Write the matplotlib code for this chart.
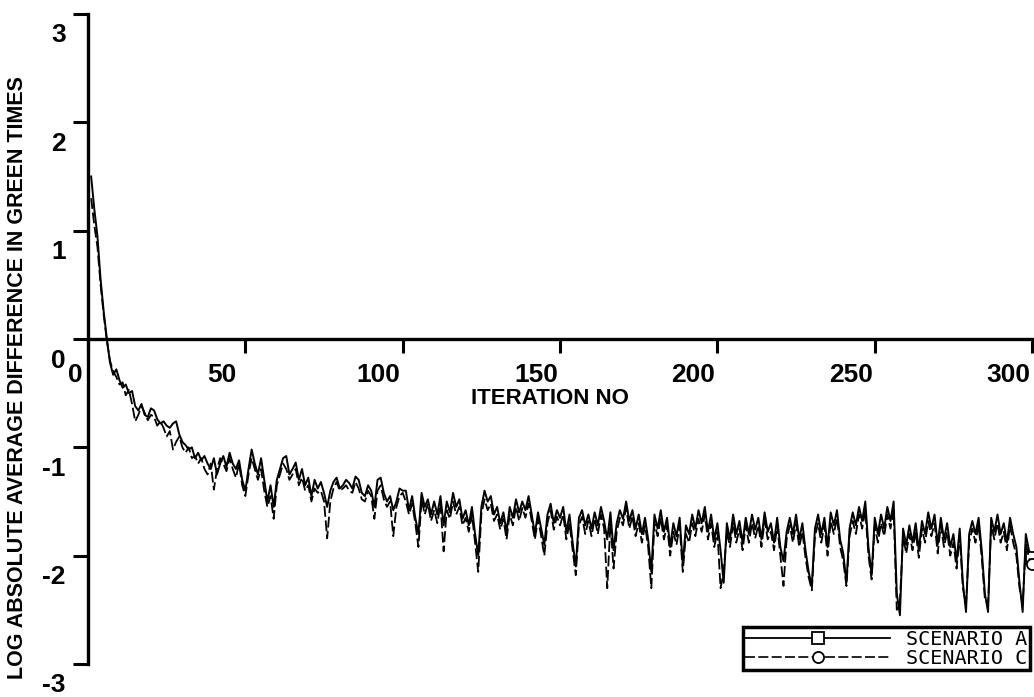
"""Convergence of green-time differences, scenarios A and C."""

import matplotlib
matplotlib.use('Agg')
import matplotlib.pyplot as plt
import matplotlib.transforms as mtransforms
from matplotlib.lines import Line2D

# Log absolute average difference in green times, one value per iteration (1..300)
scenario_a = [
    1.50, 1.20, 0.95, 0.55, 0.25, 0.00, -0.22, -0.33, -0.28, -0.38,
    -0.45, -0.42, -0.50, -0.48, -0.62, -0.66, -0.60, -0.70, -0.72, -0.64,
    -0.66, -0.74, -0.78, -0.76, -0.80, -0.82, -0.78, -0.76, -0.88, -0.95,
    -0.98, -1.02, -1.00, -1.10, -1.05, -1.12, -1.08, -1.15, -1.20, -1.10,
    -1.25, -1.15, -1.08, -1.18, -1.05, -1.15, -1.20, -1.12, -1.30, -1.40,
    -1.20, -1.02, -1.15, -1.25, -1.10, -1.30, -1.50, -1.35, -1.55, -1.30,
    -1.20, -1.10, -1.08, -1.25, -1.20, -1.14, -1.30, -1.20, -1.35, -1.28,
    -1.45, -1.30, -1.38, -1.32, -1.42, -1.55, -1.40, -1.32, -1.28, -1.38,
    -1.35, -1.30, -1.33, -1.38, -1.27, -1.30, -1.42, -1.45, -1.35, -1.40,
    -1.55, -1.30, -1.28, -1.42, -1.50, -1.45, -1.58, -1.50, -1.38, -1.40,
    -1.40, -1.58, -1.45, -1.65, -1.80, -1.42, -1.55, -1.48, -1.62, -1.50,
    -1.62, -1.45, -1.72, -1.50, -1.60, -1.42, -1.55, -1.48, -1.66, -1.58,
    -1.72, -1.55, -1.80, -2.00, -1.55, -1.40, -1.50, -1.45, -1.62, -1.55,
    -1.70, -1.60, -1.78, -1.55, -1.65, -1.48, -1.60, -1.50, -1.58, -1.45,
    -1.62, -1.80, -1.60, -1.75, -1.90, -1.62, -1.52, -1.70, -1.58, -1.65,
    -1.55, -1.78, -1.62, -1.88, -2.10, -1.65, -1.58, -1.72, -1.62, -1.75,
    -1.60, -1.72, -1.55, -1.68, -1.85, -1.60, -1.95, -1.70, -1.58, -1.66,
    -1.50, -1.68, -1.58, -1.75, -1.62, -1.80, -1.65, -1.85, -2.15, -1.62,
    -1.75, -1.58, -1.78, -1.65, -1.92, -1.70, -1.82, -1.65, -2.08, -1.72,
    -1.80, -1.62, -1.75, -1.58, -1.70, -1.55, -1.78, -1.62, -1.85, -1.70,
    -1.95, -2.25, -1.70, -1.85, -1.62, -1.80, -1.68, -1.88, -1.65, -1.80,
    -1.62, -1.76, -1.65, -1.85, -1.60, -1.78, -1.70, -1.88, -1.65, -1.92,
    -2.05, -1.78, -1.65, -1.80, -1.62, -1.85, -1.70, -1.95, -2.15, -2.28,
    -1.75, -1.62, -1.80, -1.65, -1.92, -1.60, -1.72, -1.58, -1.85, -1.98,
    -2.25, -1.75, -1.60, -1.72, -1.55, -1.68, -1.50, -1.92, -2.18, -1.65,
    -1.80, -1.62, -1.75, -1.55, -1.68, -1.50, -2.35, -2.55, -1.75, -1.90,
    -1.72, -1.88, -1.70, -1.95, -1.68, -1.80, -1.60, -1.75, -1.62, -1.90,
    -1.65, -1.85, -1.70, -1.92, -1.80, -2.05, -1.75, -2.25, -2.52, -1.80,
    -1.68, -1.80, -1.65, -1.95, -2.35, -2.52, -1.65, -1.78, -1.62, -1.80,
    -1.70, -1.88, -1.65, -1.80, -1.92, -2.25, -2.52, -1.80, -1.95, -2.02,
]

scenario_c = [
    1.30, 1.05, 0.85, 0.50, 0.22, -0.02, -0.20, -0.30, -0.35, -0.42,
    -0.40, -0.52, -0.47, -0.60, -0.76, -0.70, -0.62, -0.68, -0.75, -0.70,
    -0.72, -0.80, -0.76, -0.82, -0.90, -0.85, -1.02, -0.95, -0.90, -1.00,
    -1.05, -1.00, -1.10, -1.08, -1.15, -1.10, -1.20, -1.25, -1.15, -1.39,
    -1.20, -1.10, -1.15, -1.22, -1.10, -1.20, -1.28, -1.15, -1.35, -1.45,
    -1.25, -1.10, -1.20, -1.30, -1.20, -1.40, -1.55, -1.45, -1.66, -1.35,
    -1.25, -1.15, -1.20, -1.30, -1.25, -1.20, -1.35, -1.28, -1.40, -1.35,
    -1.50, -1.38, -1.42, -1.40, -1.50, -1.84, -1.50, -1.38, -1.32, -1.40,
    -1.38, -1.35, -1.40, -1.42, -1.32, -1.38, -1.48, -1.50, -1.40, -1.45,
    -1.66, -1.40, -1.35, -1.48, -1.55, -1.50, -1.82, -1.55, -1.45, -1.42,
    -1.50, -1.62, -1.52, -1.70, -1.92, -1.48, -1.62, -1.52, -1.68, -1.58,
    -1.70, -1.52, -1.96, -1.58, -1.66, -1.50, -1.62, -1.55, -1.72, -1.65,
    -1.78, -1.62, -1.88, -2.15, -1.62, -1.48, -1.58, -1.52, -1.68, -1.62,
    -1.76, -1.66, -1.85, -1.62, -1.72, -1.55, -1.68, -1.56, -1.65, -1.52,
    -1.68, -1.85, -1.66, -1.82, -2.00, -1.70, -1.58, -1.76, -1.64, -1.72,
    -1.62, -1.85, -1.70, -1.95, -2.18, -1.72, -1.64, -1.80, -1.68, -1.82,
    -1.66, -1.80, -1.62, -1.75, -2.30, -1.70, -2.12, -1.78, -1.65, -1.72,
    -1.56, -1.75, -1.64, -1.82, -1.70, -1.88, -1.72, -1.92, -2.30, -1.70,
    -1.82, -1.65, -1.85, -1.72, -2.00, -1.78, -1.90, -1.72, -2.15, -1.80,
    -1.88, -1.70, -1.82, -1.66, -1.78, -1.62, -1.85, -1.70, -1.92, -1.78,
    -2.30, -2.15, -1.78, -1.92, -1.70, -1.88, -1.75, -1.95, -1.72, -1.88,
    -1.70, -1.84, -1.72, -1.92, -1.68, -1.85, -1.78, -1.95, -1.72, -2.00,
    -2.28, -1.85, -1.72, -1.88, -1.70, -1.92, -1.78, -2.02, -2.20, -2.32,
    -1.82, -1.70, -1.88, -1.72, -2.00, -1.68, -1.80, -1.65, -1.92, -2.05,
    -2.28, -1.82, -1.68, -1.80, -1.62, -1.75, -1.58, -2.00, -2.22, -1.72,
    -1.88, -1.70, -1.82, -1.62, -1.75, -1.58, -2.50, -2.42, -1.82, -1.98,
    -1.80, -1.95, -1.78, -2.02, -1.75, -1.88, -1.68, -1.82, -1.70, -1.98,
    -1.72, -1.92, -1.78, -2.00, -1.88, -2.12, -1.82, -2.30, -2.45, -1.88,
    -1.75, -1.88, -1.72, -2.02, -2.40, -2.45, -1.72, -1.85, -1.70, -1.88,
    -1.78, -1.95, -1.72, -1.88, -2.00, -2.30, -2.45, -1.88, -2.02, -2.08,
]

iterations = list(range(1, len(scenario_a) + 1))

x_ticks = [0, 50, 100, 150, 200, 250, 300]
y_ticks = [-3, -2, -1, 0, 1, 2, 3]
y_tick_labels = ['-3', '-2', '-1', '0', '1', '2', '3']

BOLD_FONT = ['Liberation Sans', 'DejaVu Sans']
LEGEND_FONT = ['DejaVu Sans Mono']

W, H = 1034, 697
fig = plt.figure(figsize=(W / 100, H / 100), dpi=100)
# axes placed in pixel terms: y axis at x=88px, y=3 at 14px, y=-3 at 664px
ax = fig.add_axes([88 / W, (H - 664) / H, (W - 88) / W, 650 / H])
ax.set_xlim(0, (W - 88) / 3.147)
ax.set_ylim(-3, 3)

line_a, = ax.plot(iterations, scenario_a, color='black', lw=1.4,
                  marker='s', markevery=[len(scenario_a) - 1], markersize=9,
                  markerfacecolor='white', markeredgewidth=1.3)
line_c, = ax.plot(iterations, scenario_c, color='black', lw=1.3,
                  dashes=(6, 2), marker='o', markevery=[len(scenario_c) - 1],
                  markersize=8, markerfacecolor='white', markeredgewidth=1.3)

# axis cross at y = 0
ax.spines['top'].set_visible(False)
ax.spines['right'].set_visible(False)
ax.spines['bottom'].set_position(('data', 0))
ax.spines['left'].set_linewidth(2.4)
ax.spines['bottom'].set_linewidth(2.4)

ax.set_xticks(x_ticks)
ax.set_xticklabels([str(v) for v in x_ticks])
ax.set_yticks(y_ticks)
ax.set_yticklabels(y_tick_labels)
ax.tick_params(axis='x', direction='out', length=10, width=2.2, pad=7)
ax.tick_params(axis='y', direction='out', length=11, width=2.2, pad=5)

for lab in ax.get_xticklabels() + ax.get_yticklabels():
    lab.set_fontfamily(BOLD_FONT)
    lab.set_fontweight('bold')
    lab.set_fontsize(19)

# labels in the original sit off their ticks: shift them
for lab, val in zip(ax.get_xticklabels(), x_ticks):
    dx = -0.13 if val == 0 else -0.24
    lab.set_transform(lab.get_transform() +
                      mtransforms.ScaledTranslation(dx, 0, fig.dpi_scale_trans))
for lab in ax.get_yticklabels():
    lab.set_transform(lab.get_transform() +
                      mtransforms.ScaledTranslation(0, -0.19, fig.dpi_scale_trans))

fig.text(550 / W, 1 - 398 / H, 'ITERATION NO', ha='center', va='center',
         family=BOLD_FONT, fontweight='bold', fontsize=16)
fig.text(18 / W, 1 - 378 / H, 'LOG ABSOLUTE AVERAGE DIFFERENCE IN GREEN TIMES',
         ha='center', va='center', rotation=90,
         family=BOLD_FONT, fontweight='bold', fontsize=15.5)

handles = [
    Line2D([], [], color='black', lw=1.3, marker='s', markersize=9,
           markerfacecolor='white', markeredgewidth=1.3),
    Line2D([], [], color='black', lw=1.2, dashes=(6, 2), marker='o',
           markersize=8, markerfacecolor='white', markeredgewidth=1.3),
]
leg = ax.legend(handles, ['SCENARIO A', 'SCENARIO C'],
                loc='lower right', bbox_to_anchor=(1030 / W, (H - 670) / H),
                bbox_transform=fig.transFigure, numpoints=1,
                prop={'family': LEGEND_FONT, 'size': 14.5},
                handlelength=7.2, handletextpad=0.8, labelspacing=0.0,
                borderpad=0.12, borderaxespad=0, fancybox=False,
                framealpha=1, edgecolor='black')
leg.get_frame().set_linewidth(2.5)

fig.savefig('out.png', dpi=100)
